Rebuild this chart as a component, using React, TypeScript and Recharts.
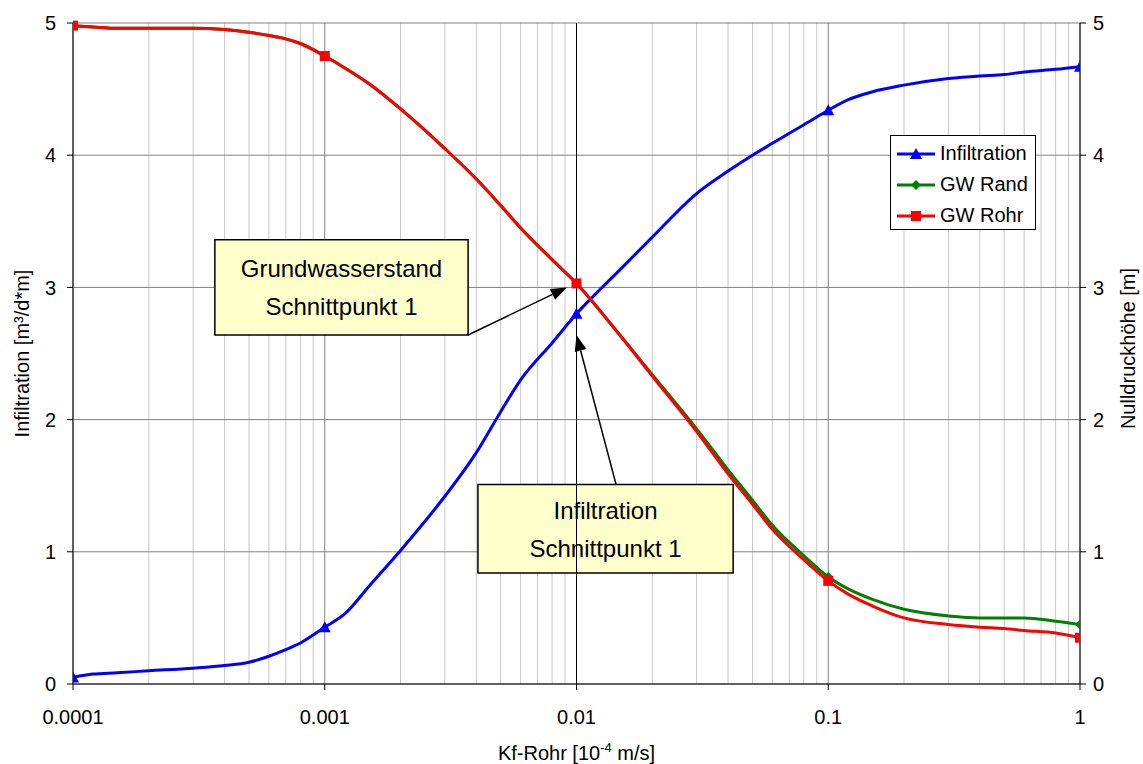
import {
  LineChart, Line, XAxis, YAxis, CartesianGrid, ReferenceLine, ReferenceArea, Legend,
} from "recharts";

const FONT = '"Liberation Sans", Arial, sans-serif';

const KF = [
  0.0001, 0.00012, 0.00015, 0.0002, 0.0003, 0.0004, 0.0005, 0.0006, 0.0007, 0.0008,
  0.001, 0.0012, 0.0015, 0.002, 0.003, 0.004, 0.005, 0.006, 0.008,
  0.01, 0.015, 0.02, 0.03, 0.04, 0.05, 0.06, 0.08,
  0.1, 0.12, 0.15, 0.2, 0.3, 0.4, 0.5, 0.6, 0.8, 1,
];
const INFILTRATION = [
  0.05, 0.075, 0.085, 0.1, 0.12, 0.14, 0.165, 0.21, 0.26, 0.31,
  0.43, 0.53, 0.74, 1.01, 1.42, 1.75, 2.06, 2.3, 2.58,
  2.8, 3.14, 3.38, 3.71, 3.88, 4.0, 4.09, 4.23,
  4.34, 4.42, 4.48, 4.53, 4.58, 4.6, 4.61, 4.63, 4.65, 4.67,
];
const GW_RAND = [
  4.98, 4.97, 4.96, 4.96, 4.96, 4.95, 4.93, 4.905, 4.88, 4.845,
  4.75, 4.66, 4.54, 4.35, 4.05, 3.82, 3.62, 3.45, 3.21,
  3.03, 2.63, 2.34, 1.93, 1.62, 1.39, 1.2, 0.97,
  0.81, 0.72, 0.64, 0.565, 0.515, 0.5, 0.5, 0.5, 0.475, 0.45,
];
const GW_ROHR = [
  4.98, 4.97, 4.96, 4.96, 4.96, 4.95, 4.93, 4.905, 4.88, 4.845,
  4.75, 4.66, 4.54, 4.35, 4.05, 3.82, 3.62, 3.45, 3.21,
  3.03, 2.63, 2.33, 1.91, 1.59, 1.36, 1.17, 0.94,
  0.78, 0.68, 0.59, 0.5, 0.45, 0.43, 0.42, 0.405, 0.385, 0.35,
];

const DECADES = [0.0001, 0.001, 0.01, 0.1, 1];
const MINOR = [
  0.0002, 0.0003, 0.0004, 0.0005, 0.0006, 0.0007, 0.0008, 0.0009,
  0.002, 0.003, 0.004, 0.005, 0.006, 0.007, 0.008, 0.009,
  0.02, 0.03, 0.04, 0.05, 0.06, 0.07, 0.08, 0.09,
  0.2, 0.3, 0.4, 0.5, 0.6, 0.7, 0.8, 0.9,
];
const LEVELS = [0, 1, 2, 3, 4, 5];

const NOTE_GW = ["Grundwasserstand", "Schnittpunkt 1"];
const NOTE_INF = ["Infiltration", "Schnittpunkt 1"];

const SERIES = [
  { key: "infiltration", name: "Infiltration", color: "#0000FF", marker: "triangle", axis: "left" },
  { key: "rand", name: "GW Rand", color: "#008000", marker: "diamond", axis: "right" },
  { key: "rohr", name: "GW Rohr", color: "#FF0000", marker: "square", axis: "right" },
];

const data = KF.map((kf, i) => ({
  kf,
  infiltration: INFILTRATION[i],
  rand: GW_RAND[i],
  rohr: GW_ROHR[i],
}));

function Marker({ cx, cy, kind, color }: { cx: number; cy: number; kind: string; color: string }) {
  if (kind === "triangle") {
    return <polygon points={`${cx},${cy - 6} ${cx - 6},${cy + 5} ${cx + 6},${cy + 5}`} fill={color} />;
  }
  if (kind === "diamond") {
    return <polygon points={`${cx},${cy - 5} ${cx + 5},${cy} ${cx},${cy + 5} ${cx - 5},${cy}`} fill={color} />;
  }
  return <rect x={cx - 5} y={cy - 5} width={10} height={10} fill={color} />;
}

const dotFor = (kind: string, color: string) => (p: any) => {
  if (!DECADES.includes(p.payload.kf)) return <g key={p.index} />;
  return (
    <g key={p.index}>
      <Marker cx={p.cx} cy={p.cy} kind={kind} color={color} />
    </g>
  );
};

const arrowShape = (p: any) => {
  const { x1, y1, x2, y2 } = p;
  const ang = Math.atan2(y2 - y1, x2 - x1);
  const len = 16;
  const half = 6;
  const bx = x2 - len * Math.cos(ang);
  const by = y2 - len * Math.sin(ang);
  const px = -Math.sin(ang) * half;
  const py = Math.cos(ang) * half;
  return (
    <g>
      <line x1={x1} y1={y1} x2={bx} y2={by} stroke="#000" strokeWidth={1.5} />
      <polygon points={`${x2},${y2} ${bx + px},${by + py} ${bx - px},${by - py}`} fill="#000" />
    </g>
  );
};

const noteText = (lines: string[]) => (props: any) => {
  const { x, y, width, height } = props.viewBox;
  const cx = x + width / 2;
  const cy = y + height / 2;
  return (
    <text x={cx} y={cy} textAnchor="middle" fontSize={24} fill="#000" fontFamily={FONT}>
      <tspan x={cx} y={cy - 10}>{lines[0]}</tspan>
      <tspan x={cx} y={cy + 28}>{lines[1]}</tspan>
    </text>
  );
};

const renderLegend = () => (
  <div
    style={{
      border: "1px solid #000",
      background: "#fff",
      width: 146,
      height: 95,
      boxSizing: "border-box",
      paddingTop: 2,
      fontSize: 20,
      fontFamily: FONT,
    }}
  >
    {SERIES.map((s) => (
      <div key={s.key} style={{ display: "flex", alignItems: "center", height: 31 }}>
        <svg width={46} height={20} style={{ display: "block" }}>
          <line x1={6} y1={10} x2={44} y2={10} stroke={s.color} strokeWidth={3} />
          <Marker cx={25} cy={10} kind={s.marker} color={s.color} />
        </svg>
        <span style={{ marginLeft: 3 }}>{s.name}</span>
      </div>
    ))}
  </div>
);

export default function App() {
  return (
    <div style={{ position: "absolute", left: 0, top: 0, fontFamily: FONT }}>
      <LineChart width={1143} height={764} data={data} margin={{ top: 23, right: 0, bottom: 0, left: 0 }}>
        <CartesianGrid yAxisId="left" horizontal={false} verticalValues={MINOR} stroke="#c8c8c8" />
        <CartesianGrid yAxisId="left" stroke="#808080" />
        <XAxis
          dataKey="kf"
          type="number"
          scale="log"
          domain={[0.0001, 1]}
          ticks={DECADES}
          interval={0}
          allowDataOverflow
          height={80}
          stroke="#000"
          tickSize={6}
          tickMargin={20}
          tick={{ fontSize: 20, fill: "#000" }}
          tickFormatter={(v: number) => String(v)}
          label={{
            content: (props: any) => {
              const { x, y, width } = props.viewBox;
              return (
                <text x={x + width / 2} y={y + 76} textAnchor="middle" fontSize={20} fill="#000">
                  <tspan>Kf-Rohr [10</tspan>
                  <tspan dy={-8} fontSize={13}>-4</tspan>
                  <tspan dy={8}> m/s]</tspan>
                </text>
              );
            },
          }}
        />
        <YAxis
          yAxisId="left"
          domain={[0, 5]}
          ticks={LEVELS}
          interval={0}
          width={73}
          stroke="#000"
          tickSize={6}
          tickMargin={11}
          tick={{ fontSize: 20, fill: "#000" }}
          label={{
            content: (props: any) => {
              const { x, y, height } = props.viewBox;
              const cy = y + height / 2;
              return (
                <text x={x + 29} y={cy} transform={`rotate(-90 ${x + 29} ${cy})`} textAnchor="middle" fontSize={20} fill="#000">
                  Infiltration [m³/d*m]
                </text>
              );
            },
          }}
        />
        <YAxis
          yAxisId="right"
          orientation="right"
          domain={[0, 5]}
          ticks={LEVELS}
          interval={0}
          width={63}
          stroke="#000"
          tickSize={6}
          tickMargin={7}
          tick={{ fontSize: 20, fill: "#000" }}
          label={{
            content: (props: any) => {
              const { x, y, height } = props.viewBox;
              const cy = y + height / 2 - 5;
              return (
                <text x={x + 55} y={cy} transform={`rotate(-90 ${x + 55} ${cy})`} textAnchor="middle" fontSize={20} fill="#000">
                  Nulldruckhöhe [m]
                </text>
              );
            },
          }}
        />
        <ReferenceLine yAxisId="left" x={0.01} stroke="#000" strokeWidth={1} />
        <ReferenceArea
          yAxisId="left"
          x1={0.000366}
          x2={0.00371}
          y1={2.64}
          y2={3.36}
          fill="#FFFFCC"
          fillOpacity={1}
          stroke="#000"
          strokeWidth={1.5}
          label={noteText(NOTE_GW)}
        />
        <ReferenceArea
          yAxisId="left"
          x1={0.00406}
          x2={0.0419}
          y1={0.84}
          y2={1.51}
          fill="#FFFFCC"
          fillOpacity={1}
          stroke="#000"
          strokeWidth={1.5}
          label={noteText(NOTE_INF)}
        />
        <ReferenceLine
          yAxisId="left"
          segment={[{ x: 0.00371, y: 2.64 }, { x: 0.00916, y: 3.0 }]}
          shape={arrowShape}
        />
        <ReferenceLine
          yAxisId="left"
          segment={[{ x: 0.01436, y: 1.51 }, { x: 0.01, y: 2.64 }]}
          shape={arrowShape}
        />
        {SERIES.map((s) => (
          <Line
            key={s.key}
            yAxisId={s.axis}
            dataKey={s.key}
            name={s.name}
            type="monotone"
            stroke={s.color}
            strokeWidth={3}
            dot={dotFor(s.marker, s.color)}
            activeDot={false}
            isAnimationActive={false}
          />
        ))}
        <Legend
          layout="vertical"
          align="center"
          verticalAlign="middle"
          content={renderLegend}
          wrapperStyle={{ left: 890, top: 135, width: 146, height: 95 }}
        />
      </LineChart>
    </div>
  );
}
